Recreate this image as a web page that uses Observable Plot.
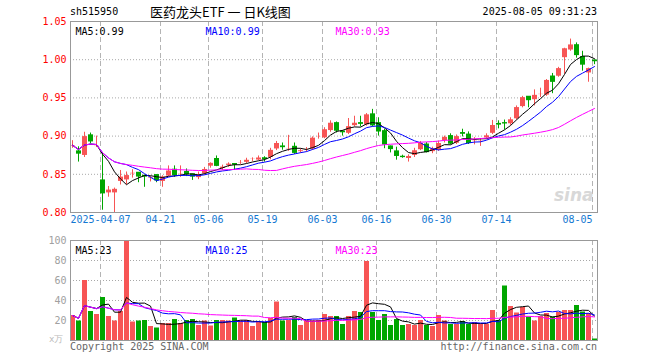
<!DOCTYPE html>
<html><head><meta charset="utf-8">
<script src="https://cdn.jsdelivr.net/npm/d3@7"></script>
<script src="https://cdn.jsdelivr.net/npm/@observablehq/plot@0.6"></script>
<style>
body{margin:0;background:#fff;}
#wrap{position:relative;width:660px;height:360px;overflow:hidden;font-family:"DejaVu Sans Mono",monospace;font-size:10px;}
.t{position:absolute;white-space:pre;line-height:1;}
.p{position:absolute;left:0;}
</style></head><body><div id="wrap">
<div class="t" style="left:70px;top:7px;color:#000;">sh515950</div>
<div class="t" style="left:150px;top:5px;color:#000;font-family:'Noto Sans CJK SC',sans-serif;font-size:13px;">医药龙头ETF 一 日K线图</div>
<div class="t" style="right:63px;top:7px;color:#000;">2025-08-05 09:31:23</div>
<div class="p" id="price" style="top:0px;"></div>
<div class="p" id="vol" style="top:230px;"></div>
<div class="t" style="left:49px;top:335px;color:#bbb;font-size:9px;">x万</div>
<div class="t" style="left:70px;top:342px;color:#666;">Copyright 2025 SINA.COM</div>
<div class="t" style="right:63px;top:342px;color:#666;">http://finance.sina.com.cn</div>
</div>
<script>
const dates = ["03-28","03-31","04-01","04-02","04-03","04-07","04-08","04-09","04-10","04-11","04-14","04-15","04-16","04-17","04-18","04-21","04-22","04-23","04-24","04-25","04-28","04-29","04-30","05-06","05-07","05-08","05-09","05-12","05-13","05-14","05-15","05-16","05-19","05-20","05-21","05-22","05-23","05-26","05-27","05-28","05-29","05-30","06-03","06-04","06-05","06-06","06-09","06-10","06-11","06-12","06-13","06-16","06-17","06-18","06-19","06-20","06-23","06-24","06-25","06-26","06-27","06-30","07-01","07-02","07-03","07-04","07-07","07-08","07-09","07-10","07-11","07-14","07-15","07-16","07-17","07-18","07-21","07-22","07-23","07-24","07-25","07-28","07-29","07-30","07-31","08-01","08-04","08-05"];
const open = [0.886,0.880,0.874,0.901,0.886,0.842,0.825,0.825,0.840,0.842,
0.850,0.852,0.848,0.844,0.849,0.840,0.847,0.856,0.850,0.853,
0.850,0.845,0.850,0.860,0.870,0.857,0.861,0.8635,0.864,0.865,
0.869,0.868,0.871,0.8715,0.8825,0.8865,0.883,0.886,0.879,0.882,
0.8825,0.8975,0.897,0.9066,0.917,0.906,0.903,0.913,0.917,0.914,
0.9285,0.917,0.9065,0.8865,0.880,0.873,0.870,0.874,0.8815,0.889,
0.879,0.881,0.8935,0.900,0.890,0.904,0.902,0.893,0.893,0.897,
0.903,0.916,0.917,0.9155,0.922,0.938,0.9515,0.947,0.954,0.953,
0.978,0.9777,1.002,1.012,1.019,1.0035,0.982,0.999];
const high = [0.894,0.886,0.905,0.904,0.900,0.878,0.834,0.832,0.855,0.853,
0.856,0.852,0.849,0.847,0.849,0.848,0.861,0.861,0.861,0.857,
0.850,0.853,0.859,0.865,0.874,0.862,0.865,0.864,0.868,0.871,
0.8715,0.874,0.873,0.884,0.893,0.891,0.901,0.891,0.883,0.885,
0.899,0.904,0.911,0.920,0.9185,0.907,0.923,0.926,0.926,0.9295,
0.935,0.924,0.909,0.887,0.8855,0.875,0.8755,0.884,0.893,0.8915,
0.8855,0.8935,0.900,0.903,0.9015,0.909,0.9055,0.898,0.8965,0.903,
0.9205,0.920,0.921,0.924,0.9395,0.952,0.9515,0.9605,0.9627,0.974,
0.982,0.990,1.015,1.027,1.022,1.011,0.989,0.9995];
const low = [0.884,0.866,0.872,0.890,0.885,0.803,0.820,0.799,0.836,0.836,
0.845,0.839,0.833,0.840,0.839,0.833,0.847,0.846,0.846,0.847,
0.842,0.843,0.849,0.858,0.860,0.855,0.859,0.855,0.863,0.864,
0.8665,0.868,0.866,0.869,0.881,0.8815,0.880,0.876,0.8775,0.879,
0.8815,0.896,0.8965,0.905,0.904,0.900,0.902,0.912,0.912,0.913,
0.912,0.900,0.8835,0.878,0.8685,0.871,0.866,0.872,0.881,0.878,
0.877,0.880,0.891,0.8885,0.889,0.899,0.889,0.8885,0.8865,0.8965,
0.902,0.9095,0.908,0.914,0.921,0.937,0.937,0.9395,0.9505,0.952,
0.9555,0.977,0.981,1.011,1.002,0.985,0.9705,0.9935];
const close = [0.888,0.877,0.900,0.893,0.887,0.825,0.830,0.831,0.847,0.849,
0.852,0.847,0.847,0.846,0.842,0.847,0.855,0.849,0.851,0.850,
0.847,0.849,0.857,0.865,0.861,0.860,0.864,0.8625,0.865,0.869,
0.870,0.872,0.870,0.882,0.891,0.8855,0.884,0.878,0.8815,0.883,
0.898,0.899,0.909,0.9175,0.907,0.905,0.913,0.9175,0.916,0.9285,
0.914,0.906,0.889,0.883,0.874,0.8725,0.874,0.8815,0.891,0.879,
0.884,0.891,0.899,0.890,0.900,0.903,0.891,0.894,0.894,0.901,
0.9145,0.915,0.9165,0.922,0.938,0.951,0.947,0.954,0.955,0.9735,
0.971,0.989,1.015,1.020,1.006,0.9935,0.989,0.998];
const volume = [25,19.5,60,29,26,43,24,19.5,29,100,
18.5,19.5,20,14,12.5,17,17,21,17,20,
21,15,19.5,14.5,20,20,19.5,22.5,19.5,20,
14,19,18,22,38.5,19.5,20,23,15,19.5,
19.5,20,26,24,24,16,24,29,28,79,
28,20,26,15,21,15,16,15,20,15,
14,25,19.5,16,16,19,16,18,16,16,
30,20,54.5,34,27.5,33,23.5,19.5,24,27,
23.5,28,30,30,35,28.5,27,1.5];
const tickDates = ["04-07","04-21","05-06","05-19","06-03","06-16","06-30","07-14","08-05"];
const tickLabels = ["2025-04-07","04-21","05-06","05-19","06-03","06-16","06-30","07-14","08-05"];
const priceTicks = [0.80,0.85,0.90,0.95,1.00,1.05];
const volTicks = [20,40,60,80,100];
const priceMaLabels = ["MA5:0.99","MA10:0.99","MA30:0.93"];
const volMaLabels = ["MA5:23","MA10:25","MA30:23"];

const RED = "#f75555", GREEN = "#00a600", BLUE = "#1478d2";
const maColors = ["#000000","#0000ff","#ff00ff"];
const maDx = [5,135,265];

const data = dates.map((d,i)=>({i, date:d, open:open[i], high:high[i], low:low[i], close:close[i], volume:volume[i], up: close[i] >= open[i]}));
function ma(arr,n){ return arr.map((_,i)=>d3.mean(arr.slice(Math.max(0,i-n+1),i+1))); }
const pMA = [5,10,30].map(n=>ma(close,n));
const vMA = [5,10,30].map(n=>ma(volume,n));
const tickIdx = tickDates.map(t=>dates.indexOf(t));
const col = d => d.up ? RED : GREEN;

const xScale = {type:"linear", domain:[-1/3, 87.5]};
const style = {fontFamily:"DejaVu Sans Mono, monospace", fontSize:"10px", background:"transparent", overflow:"visible"};

const priceMarks = [
  Plot.ruleY([0.85,0.90,0.95,1.00], {stroke:"#a8a8a8", strokeDasharray:"1,2"}),
  Plot.ruleX(tickIdx, {x:d=>d, dx:-2, stroke:"#b4b4b4", strokeDasharray:"5,3"}),
  Plot.ruleX(data, {x:"i", y1:"low", y2:"high", stroke:col}),
  Plot.ruleX(data, {x:"i", y1:"open", y2:"close", stroke:col, strokeWidth:5, insetTop:-0.5, insetBottom:-0.5}),
  ...pMA.map((m,k)=>Plot.line(m, {x:(d,i)=>i, y:d=>d, stroke:maColors[k], strokeWidth:1})),
  Plot.text(["sina"], {frameAnchor:"bottom-right", dx:-4, dy:-12, fill:"#d8d8d8", fontSize:17, fontWeight:"bold", fontStyle:"italic", fontFamily:"DejaVu Sans"}),
  Plot.frame({stroke:"#999"}),
  Plot.text(priceTicks, {y:d=>d, text:d=>d.toFixed(2), frameAnchor:"left", dx:-4, textAnchor:"end", fill:"#ff0000"}),
  Plot.text(tickIdx.slice(0,-1), {x:d=>d, dx:-2, text:(d,i)=>tickLabels[i], frameAnchor:"bottom", dy:10, fill:BLUE}),
  Plot.text(tickIdx.slice(-1), {x:d=>d, dx:-2, text:()=>tickLabels[tickLabels.length-1], frameAnchor:"bottom", dy:10, textAnchor:"end", fill:BLUE}),
  ...priceMaLabels.map((t,k)=>Plot.text([t], {frameAnchor:"top-left", dx:maDx[k], dy:6, textAnchor:"start", fill:maColors[k]}))
];
const price = Plot.plot({
  width:660, height:232, marginLeft:70, marginRight:63, marginTop:21, marginBottom:20,
  x:{...xScale, axis:null}, y:{domain:[0.80,1.05], axis:null},
  style, marks: priceMarks
});
document.getElementById("price").appendChild(price);

const volMarks = [
  Plot.ruleY([20,40,60,80], {stroke:"#a8a8a8", strokeDasharray:"1,2"}),
  Plot.ruleX(tickIdx, {x:d=>d, dx:-2, stroke:"#b4b4b4", strokeDasharray:"5,3"}),
  Plot.ruleX(data, {x:"i", y1:0, y2:"volume", stroke:col, strokeWidth:5}),
  ...vMA.map((m,k)=>Plot.line(m, {x:(d,i)=>i, y:d=>d, stroke:maColors[k], strokeWidth:1})),
  Plot.frame({stroke:"#999"}),
  Plot.text(volTicks, {y:d=>d, text:d=>String(d), frameAnchor:"left", dx:-4, textAnchor:"end", fill:"#a0a0a0"}),
  ...volMaLabels.map((t,k)=>Plot.text([t], {frameAnchor:"top-left", dx:maDx[k], dy:6, textAnchor:"start", fill:maColors[k]}))
];
const vol = Plot.plot({
  width:660, height:130, marginLeft:70, marginRight:63, marginTop:10, marginBottom:20,
  x:{...xScale, axis:null}, y:{domain:[0,100], axis:null},
  style, marks: volMarks
});
document.getElementById("vol").appendChild(vol);
</script></body></html>
